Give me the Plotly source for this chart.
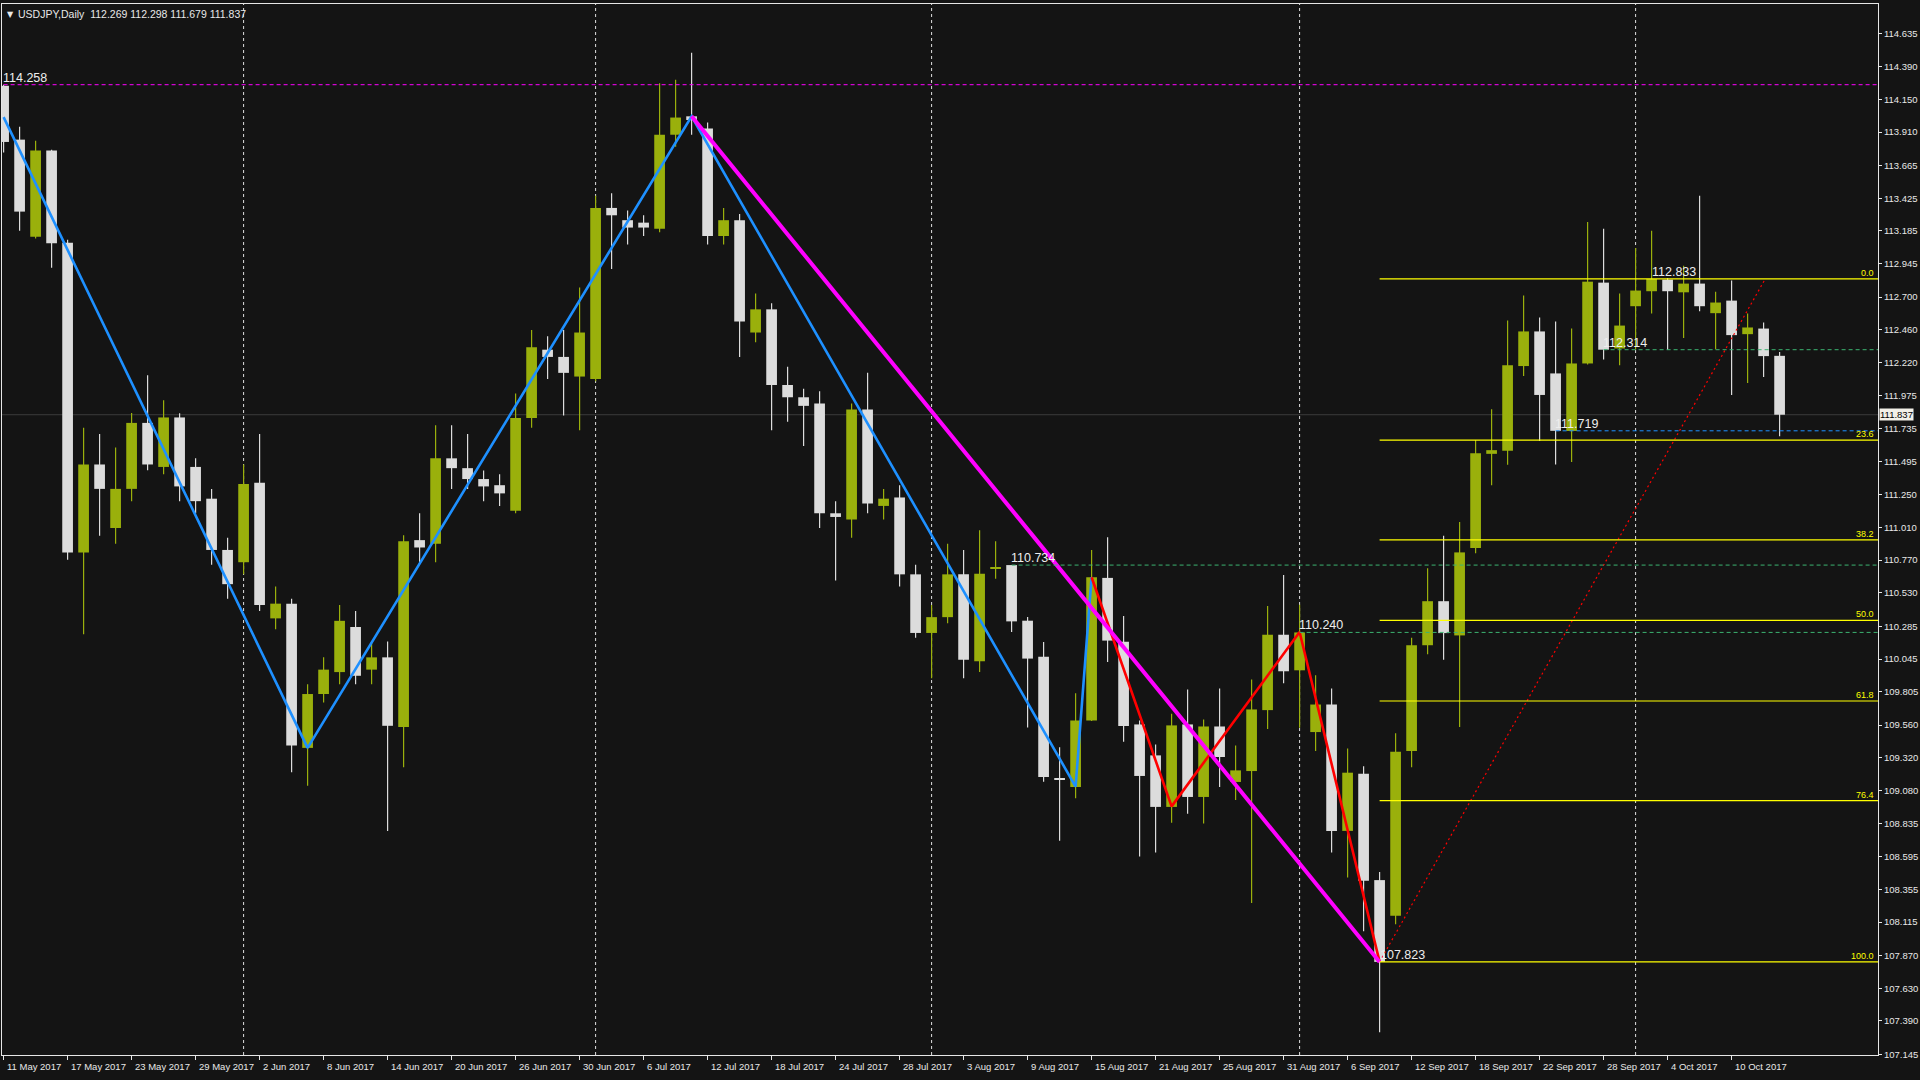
import plotly.graph_objects as go

# ---------------- data (USDJPY daily, 11 May 2017 .. 13 Oct 2017) ----------------
opens = [114.250,113.855,113.143,113.775,113.098,110.827,111.472,111.006,111.293,111.777,
         111.454,111.817,111.454,111.221,110.845,110.755,111.338,110.343,110.451,109.393,
         109.788,109.949,110.280,109.967,110.057,109.546,110.917,110.890,111.517,111.445,
         111.365,111.320,111.132,111.813,112.314,112.261,112.117,112.099,113.354,113.264,
         113.246,113.201,113.891,114.026,113.936,113.148,113.264,112.440,112.610,112.055,
         111.965,111.920,111.114,111.069,111.875,111.168,111.230,110.666,110.236,110.352,
         110.666,110.028,110.705,110.734,110.326,110.062,109.170,109.106,109.594,110.640,
         110.172,109.565,109.338,108.960,109.565,109.033,109.550,109.143,109.223,109.670,
         110.223,109.962,109.509,109.711,108.784,109.204,108.423,108.162,109.370,110.146,
         110.469,110.218,110.860,111.550,111.572,112.194,112.448,112.140,111.718,112.213,
         112.806,112.323,112.633,112.743,112.828,112.735,112.799,112.582,112.674,112.428,
         112.469,112.269]
highs = [114.258,113.950,113.847,113.780,113.121,111.741,111.696,111.597,111.850,112.126,
         111.943,111.848,111.517,111.293,110.935,111.472,111.696,110.576,110.487,109.859,
         110.057,110.442,110.397,110.173,110.173,110.953,111.114,111.759,111.759,111.696,
         111.427,111.400,111.992,112.458,112.413,112.458,112.771,113.443,113.461,113.336,
         113.300,114.268,114.295,114.492,113.981,113.354,113.309,112.727,112.655,112.189,
         112.028,112.010,111.203,111.920,112.144,111.293,111.320,110.737,110.442,110.890,
         110.845,110.990,110.909,110.734,110.353,110.170,109.397,109.794,110.845,110.938,
         110.360,109.594,109.418,109.643,109.821,109.601,109.828,109.411,109.894,110.433,
         110.662,110.443,109.926,109.828,109.389,109.258,108.482,109.500,110.200,110.710,
         110.950,111.050,111.652,111.877,112.528,112.711,112.550,112.521,112.469,113.250,
         113.201,112.726,113.060,113.187,112.840,112.930,113.443,112.740,112.821,112.579,
         112.513,112.298]
lows = [113.760,113.187,113.130,112.915,110.773,110.227,110.950,110.890,111.203,111.430,
        111.400,111.203,111.114,110.737,110.487,110.666,110.397,110.263,109.214,109.116,
        109.725,109.859,109.859,109.859,108.784,109.250,110.755,110.755,111.293,111.293,
        111.203,111.168,111.114,111.741,112.099,111.831,111.723,112.082,112.906,113.085,
        113.148,113.175,113.802,113.891,113.085,113.085,112.261,112.368,111.723,111.786,
        111.607,111.006,110.621,110.935,111.114,111.069,110.576,110.200,109.904,110.307,
        109.904,109.950,110.633,110.243,109.543,109.145,108.711,109.023,109.590,110.023,
        109.438,108.597,108.626,108.843,108.909,108.838,109.106,109.011,108.255,109.531,
        109.867,109.540,109.370,108.626,108.443,108.048,107.306,108.100,109.250,110.080,
        110.040,109.546,110.820,111.320,111.470,112.121,111.645,111.472,111.490,112.206,
        112.243,112.199,112.316,112.579,112.311,112.399,112.596,112.318,111.982,112.070,
        112.113,111.679]
closes = [113.838,113.327,113.775,113.094,110.827,111.472,111.293,111.293,111.777,111.472,
          111.817,111.311,111.203,110.845,110.594,111.329,110.442,110.451,109.411,109.788,
          109.967,110.325,109.922,110.057,109.555,110.908,110.863,111.517,111.445,111.365,
          111.311,111.260,111.813,112.332,112.261,112.144,112.440,113.354,113.300,113.210,
          113.210,113.891,114.017,113.999,113.148,113.264,112.521,112.610,112.055,111.965,
          111.902,111.114,111.087,111.875,111.185,111.221,110.666,110.236,110.352,110.666,
          110.039,110.670,110.720,110.321,110.048,109.180,109.160,109.594,110.645,110.180,
          109.553,109.187,108.960,109.558,109.033,109.550,109.326,109.228,109.675,110.223,
          109.955,110.240,109.711,108.784,109.211,108.418,107.823,109.365,110.146,110.469,
          110.235,110.827,111.555,111.577,112.199,112.448,111.982,111.719,112.213,112.813,
          112.314,112.491,112.748,112.833,112.743,112.799,112.633,112.660,112.421,112.477,
          112.267,111.837]

date_tick_idx = [0,4,8,12,16,20,24,28,32,36,40,44,48,52,56,60,64,68,72,76,80,84,88,92,96,100,104,108]
date_labels = ["11 May 2017","17 May 2017","23 May 2017","29 May 2017","2 Jun 2017","8 Jun 2017",
               "14 Jun 2017","20 Jun 2017","26 Jun 2017","30 Jun 2017","6 Jul 2017","12 Jul 2017",
               "18 Jul 2017","24 Jul 2017","28 Jul 2017","3 Aug 2017","9 Aug 2017","15 Aug 2017",
               "21 Aug 2017","25 Aug 2017","31 Aug 2017","6 Sep 2017","12 Sep 2017","18 Sep 2017",
               "22 Sep 2017","28 Sep 2017","4 Oct 2017","10 Oct 2017"]
month_sep_idx = [15, 37, 58, 81, 102]

price_ticks = [114.635,114.390,114.150,113.910,113.665,113.425,113.185,112.945,112.700,112.460,
               112.220,111.975,111.735,111.495,111.250,111.010,110.770,110.530,110.285,110.045,
               109.805,109.560,109.320,109.080,108.835,108.595,108.355,108.115,107.870,107.630,
               107.390,107.145]

zz_blue_x = [0, 19, 43, 67, 68]
zz_blue_y = [114.020, 109.393, 114.026, 109.109, 110.645]
zz_red_x = [68, 73, 81, 86]
zz_red_y = [110.645, 108.964, 110.243, 107.823]
zz_mag_x = [43, 86]
zz_mag_y = [114.026, 107.823]

fib_levels = [0.0, 23.6, 38.2, 50.0, 61.8, 76.4, 100.0]
fib_top = 112.833
fib_bottom = 107.823
fib_start_idx = 86
fib_trend_x = [86, 110.1]
fib_trend_y = [107.823, 112.833]

# horizontal marked levels: (price, start index, label, color)
hlines = [(114.258, 0, "114.258", "#FF00FF"),
          (110.734, 63, "110.734", "#3CB371"),
          (110.240, 81, "110.240", "#3CB371"),
          (112.314, 100, "112.314", "#3CB371"),
          (111.719, 97, "111.719", "#1E90FF")]
extra_labels = [(103, 112.833, "112.833"), (86, 107.823, "107.823")]
current_price = 111.837
title_text = "USDJPY,Daily  112.269 112.298 111.679 111.837"

# ---------------- styling ----------------
BG = "#141414"
BULL = "#9AB00C"
BEAR = "#DCDCDC"
FRAME = "#E6E6E6"
FONT = "Liberation Sans"
X0, X1 = -0.1, 117.15
Y0, Y1 = 107.14, 114.85

fig = go.Figure()

n = len(opens)
idx = list(range(n))

# wicks
for color, bull in ((BULL, True), (BEAR, False)):
    wx, wy = [], []
    for i in idx:
        if (closes[i] >= opens[i]) == bull:
            wx += [i, i, None]
            wy += [lows[i], highs[i], None]
    fig.add_trace(go.Scatter(x=wx, y=wy, mode="lines", line=dict(color=color, width=1.2),
                             hoverinfo="skip", showlegend=False))

# bodies
for color, bull in ((BULL, True), (BEAR, False)):
    bx, bh, bb = [], [], []
    for i in idx:
        if (closes[i] >= opens[i]) == bull:
            lo = min(opens[i], closes[i])
            hi = max(opens[i], closes[i])
            bx.append(i)
            bb.append(lo)
            bh.append(max(hi - lo, 0.008))
    fig.add_trace(go.Bar(x=bx, y=bh, base=bb, width=0.67, marker=dict(color=color, line=dict(width=0)),
                         hoverinfo="skip", showlegend=False))

shapes = []
# month separators
for s in month_sep_idx:
    shapes.append(dict(type="line", xref="x", yref="paper", x0=s, x1=s, y0=0, y1=1,
                       line=dict(color="#E0E0E0", width=1, dash="3px,3px"), layer="below"))
# current price line
shapes.append(dict(type="line", xref="paper", yref="y", x0=0, x1=1, y0=current_price, y1=current_price,
                   line=dict(color="#3C3C3C", width=1), layer="below"))
# marked dashed levels
for price, start, label, col in hlines:
    shapes.append(dict(type="line", xref="x", yref="y", x0=start, x1=X1, y0=price, y1=price,
                       line=dict(color=col, width=1, dash="4px,3px")))
# fib levels
fib_prices = [fib_top - (fib_top - fib_bottom) * lv / 100.0 for lv in fib_levels]
for p in fib_prices:
    shapes.append(dict(type="line", xref="x", yref="y", x0=fib_start_idx, x1=X1, y0=p, y1=p,
                       line=dict(color="#FFFF00", width=1.2)))
fig.update_layout(shapes=shapes)

# fib trend (dotted red)
fig.add_trace(go.Scatter(x=fib_trend_x, y=fib_trend_y, mode="lines",
                         line=dict(color="#FF0000", width=1.2, dash="2px,3px"),
                         hoverinfo="skip", showlegend=False))
# zigzags
fig.add_trace(go.Scatter(x=zz_blue_x, y=zz_blue_y, mode="lines", line=dict(color="#1E90FF", width=2.6),
                         hoverinfo="skip", showlegend=False))
fig.add_trace(go.Scatter(x=zz_red_x, y=zz_red_y, mode="lines", line=dict(color="#FF0000", width=2.6),
                         hoverinfo="skip", showlegend=False))
fig.add_trace(go.Scatter(x=zz_mag_x, y=zz_mag_y, mode="lines", line=dict(color="#FF00FF", width=4),
                         hoverinfo="skip", showlegend=False))

annotations = []
# date labels (left anchored at tick)
for i, t in zip(date_tick_idx, date_labels):
    annotations.append(dict(x=i, y=0, xref="x", yref="paper", text=t, showarrow=False,
                            xanchor="left", yanchor="top", xshift=1, yshift=-4,
                            font=dict(family=FONT, size=9.5, color="#E8E8E8")))
# level labels
for price, start, label, col in hlines:
    annotations.append(dict(x=start, y=price, xref="x", yref="y", text=label, showarrow=False,
                            xanchor="left", yanchor="bottom", xshift=-3, yshift=-2,
                            font=dict(family=FONT, size=12.5, color="#EEEEEE")))
for xi, p, label in extra_labels:
    annotations.append(dict(x=xi, y=p, xref="x", yref="y", text=label, showarrow=False,
                            xanchor="left", yanchor="bottom", xshift=-2, yshift=-2,
                            font=dict(family=FONT, size=12.5, color="#EEEEEE")))
# fib labels
for lv, p in zip(fib_levels, fib_prices):
    annotations.append(dict(x=1, y=p, xref="paper", yref="y", text=f"{lv:.1f}", showarrow=False,
                            xanchor="right", yanchor="bottom", xshift=-2, yshift=-1,
                            font=dict(family=FONT, size=9, color="#FFFF00")))
# current price box
annotations.append(dict(x=1, y=current_price, xref="paper", yref="y", text=f"{current_price:.3f}",
                        showarrow=False, xanchor="left", yanchor="middle", xshift=1,
                        bgcolor="#F2F0E8", borderpad=0,
                        font=dict(family=FONT, size=9.5, color="#000000")))
# title
annotations.append(dict(x=0, y=1, xref="paper", yref="paper", text="▼", showarrow=False,
                        xanchor="left", yanchor="top", xshift=3, yshift=-4,
                        font=dict(family="DejaVu Sans", size=8, color="#E8E8E8")))
annotations.append(dict(x=0, y=1, xref="paper", yref="paper", text=title_text, showarrow=False,
                        xanchor="left", yanchor="top", xshift=14, yshift=-2,
                        font=dict(family=FONT, size=10.5, color="#E8E8E8")))

fig.update_layout(
    width=1920, height=1080,
    paper_bgcolor=BG, plot_bgcolor=BG,
    margin=dict(l=2, r=42, t=4, b=25),
    barmode="overlay",
    showlegend=False,
    annotations=annotations,
    xaxis=dict(range=[X0, X1], showgrid=False, zeroline=False, tickmode="array",
               tickvals=date_tick_idx, ticktext=[""] * len(date_tick_idx),
               ticks="outside", ticklen=4, tickcolor=FRAME, showline=True, linecolor=FRAME,
               linewidth=1, mirror=True, fixedrange=True),
    yaxis=dict(range=[Y0, Y1], side="right", showgrid=False, zeroline=False, tickmode="array",
               tickvals=price_ticks, ticktext=[f"{v:.3f}" for v in price_ticks],
               ticks="outside", ticklen=3, tickcolor=FRAME, showline=True, linecolor=FRAME,
               linewidth=1, mirror=True, tickfont=dict(family=FONT, size=9.5, color="#E8E8E8"),
               fixedrange=True),
)

fig.write_html("out.html", config={"displayModeBar": False},
               post_script="document.body.style.margin='0';document.body.style.overflow='hidden';")
